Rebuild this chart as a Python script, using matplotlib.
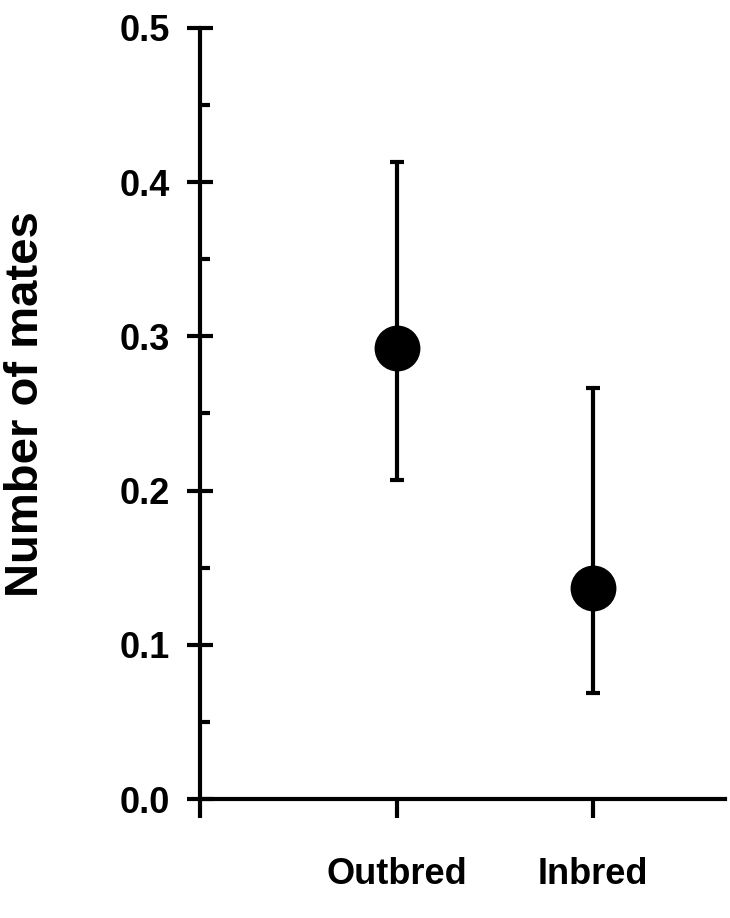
import matplotlib.pyplot as plt
import numpy as np

groups = ['Outbred', 'Inbred']
means = [0.2925, 0.137]
upper = [0.413, 0.2665]
lower = [0.207, 0.069]

plt.rcParams['font.family'] = ['Liberation Sans', 'DejaVu Sans']
plt.rcParams['font.weight'] = 'bold'

fig = plt.figure(figsize=(7.3, 9.18), dpi=100)
ax = fig.add_axes([0.274, 0.1296, 0.719, 0.84])

x = np.arange(1, len(groups) + 1)
m = np.array(means)
yerr = [m - np.array(lower), np.array(upper) - m]
ax.errorbar(x, m, yerr=yerr, fmt='o', color='black', ms=32, elinewidth=3,
            capsize=5, capthick=3, clip_on=False)

ax.set_xlim(0, 2.67)
ax.set_ylim(0, 0.5)
ax.set_xticks([0, 1, 2])
ax.set_xticklabels(['', groups[0], groups[1]])
ax.set_yticks(np.arange(0, 0.51, 0.1))
ax.set_yticklabels(['%.1f' % v for v in np.arange(0, 0.51, 0.1)])
ax.set_yticks(np.arange(0.05, 0.5, 0.1), minor=True)

for s in ['top', 'right']:
    ax.spines[s].set_visible(False)
for s in ['left', 'bottom']:
    ax.spines[s].set_linewidth(3)

ax.tick_params(axis='y', which='major', direction='inout', length=19, width=3,
               labelsize=26, pad=12)
ax.tick_params(axis='y', which='minor', direction='in', length=7, width=3)
ax.tick_params(axis='x', which='major', direction='out', length=14, width=3,
               labelsize=26, pad=28)

ax.set_ylabel('Number of mates', fontsize=34, fontweight='bold')
ax.yaxis.set_label_coords(-0.29, 0.512)

fig.savefig('out.png', dpi=100)
